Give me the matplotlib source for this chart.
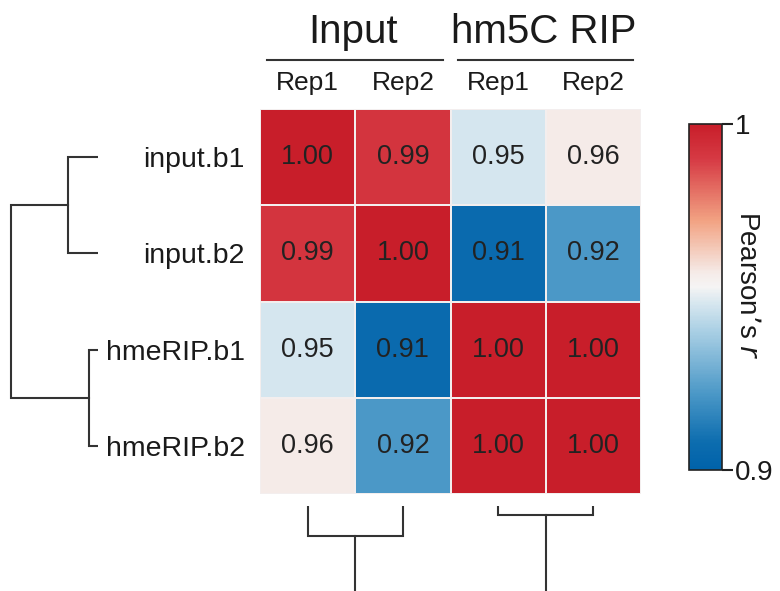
import numpy as np
import matplotlib
matplotlib.use("Agg")
import matplotlib.pyplot as plt
from matplotlib.colors import LinearSegmentedColormap

plt.rcParams['font.family'] = ['Liberation Sans', 'DejaVu Sans']

# ---- data ----
row_labels = ["input.b1", "input.b2", "hmeRIP.b1", "hmeRIP.b2"]
col_labels = ["Rep1", "Rep2", "Rep1", "Rep2"]
group_labels = ["Input", "hm5C RIP"]
corr = np.array([
    [1.000, 0.992, 0.948, 0.957],
    [0.992, 1.000, 0.906, 0.922],
    [0.948, 0.906, 1.000, 1.000],
    [0.957, 0.922, 1.000, 1.000],
])
# hierarchical clustering: (left index, right index, merge height)
merges = [(0, 1, 0.30), (2, 3, 0.09), (4, 5, 0.87)]
vmin, vmax = 0.9, 1.0

cmap = LinearSegmentedColormap.from_list("pearson", [
    (0.00, "#0062aa"), (0.08, "#0d6daf"), (0.22, "#4b98c7"), (0.40, "#a9cfe4"),
    (0.48, "#d6e6ef"), (0.53, "#f5f4f4"), (0.57, "#f5ebe8"),
    (0.72, "#f2a383"), (0.90, "#d63a44"), (1.00, "#c81e2a")])

W, H = 780, 591
fig = plt.figure(figsize=(W / 100, H / 100), dpi=100)

def ax_px(x0, y0, x1, y1):
    return fig.add_axes([x0 / W, 1 - y1 / H, (x1 - x0) / W, (y1 - y0) / H])

txt = "#1a1a1a"
lc = "#333333"

# heatmap
ax = ax_px(260, 109, 641, 494)
n = len(row_labels)
ax.pcolormesh(np.arange(n + 1), np.arange(n + 1), corr, cmap=cmap,
              vmin=vmin, vmax=vmax, edgecolors="#f3eeee", linewidth=1.2)
ax.set_xlim(0, n)
ax.set_ylim(n, 0)
for i in range(n):
    for j in range(n):
        ax.text(j + 0.5, i + 0.5, f"{corr[i, j]:.2f}", ha="center", va="center",
                fontsize=19.5, color="#222222")
ax.set_xticks([])
ax.set_yticks(np.arange(n) + 0.5)
ax.set_yticklabels(row_labels, fontsize=20.5, color=txt)
ax.tick_params(axis="y", length=0, pad=11)
for s in ax.spines.values():
    s.set_visible(False)

# column labels and group headers
for j, lab in enumerate(col_labels):
    ax.text(j + 0.5, -0.27, lab, ha="center", va="center", fontsize=19,
            color=txt, clip_on=False)
for g, lab in enumerate(group_labels):
    x0, x1 = 2 * g, 2 * g + 2
    ax.text(x0 + 0.98, -0.80, lab, ha="center", va="center",
            fontsize=29, color=txt, clip_on=False)
    ax.plot([x0 + 0.07 + 0.01 * g, x1 - 0.08], [-0.51, -0.51],
            color=lc, lw=1.5, clip_on=False)

# left dendrogram (rows)
axl = ax_px(0, 109, 98, 494)
axl.set_ylim(n, 0)
axl.set_xlim(0.98, 0)
axl.axis("off")
# bottom dendrogram (columns)
axb = ax_px(260, 506, 641, 591)
axb.set_xlim(0, n)
axb.set_ylim(0.85, 0)
axb.axis("off")

def draw_dendro(a, orient):
    pos = {i: i + 0.5 for i in range(n)}
    hgt = {i: 0.0 for i in range(n)}
    k = n
    for l, r, h in merges:
        pl, pr = pos[l], pos[r]
        xs = [hgt[l], h, h, hgt[r]]
        ys = [pl, pl, pr, pr]
        if orient == "left":
            a.plot(xs, ys, color=lc, lw=1.5, solid_joinstyle="miter")
        else:
            a.plot(ys, xs, color=lc, lw=1.5, solid_joinstyle="miter")
        pos[k] = (pl + pr) / 2
        hgt[k] = h
        k += 1

draw_dendro(axl, "left")
draw_dendro(axb, "bottom")

# colorbar
cax = ax_px(689, 124, 722, 470)
sm = matplotlib.cm.ScalarMappable(cmap=cmap, norm=plt.Normalize(vmin, vmax))
cb = fig.colorbar(sm, cax=cax, ticks=[0.9, 1.0])
cb.ax.set_yticklabels(["0.9", "1"], fontsize=20, color=txt)
cb.ax.tick_params(length=8, width=1.5, pad=1, color="#222222")
cb.outline.set_linewidth(1.2)
cb.outline.set_edgecolor("#222222")
fig.text(747 / W, 1 - 285 / H, "Pearson\u2019s $\\it{r}$", rotation=270,
         ha="center", va="center", fontsize=20, color=txt)

fig.savefig("out.png", dpi=100)
